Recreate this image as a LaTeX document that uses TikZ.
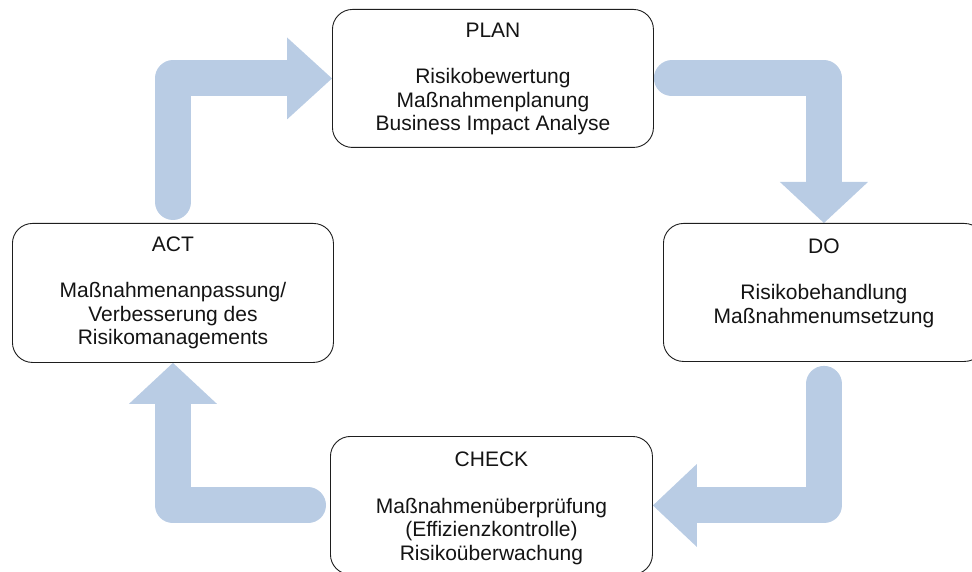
\documentclass[tikz,border=0pt]{standalone}
\usepackage{fontspec}
\setmainfont{Liberation Sans}
\usetikzlibrary{calc,backgrounds}
\definecolor{arrowblue}{RGB}{185,204,228}
\definecolor{boxline}{RGB}{30,30,30}
\tikzset{
  box/.style={draw=boxline, line width=0.9pt, rounded corners=20pt, fill=white,
    minimum width=321pt, minimum height=138pt, anchor=north west, inner sep=0pt},
  txt/.style={anchor=north, inner sep=0pt, align=center, text=black!92,
    font=\fontsize{21}{23.3}\selectfont},
  flow/.style={draw=arrowblue, line width=36pt, line join=round, line cap=round},
  head/.style={fill=arrowblue, draw=none}
}
\begin{document}
\begin{tikzpicture}[x=1pt,y=1pt]
\useasboundingbox (0,0) rectangle (972,-572);
\clip (0,0) rectangle (972,-572);
% boxes
\path (332,-9) node[box] (plan) {};
\path (663,-223) node[box] (do) {};
\path (330,-436) node[box, minimum width=322pt] (check) {};
\path (12,-223) node[box, minimum height=139pt] (act) {};
% texts
\node[txt] (plantxt) at ([yshift=-13.5pt]plan.north) {PLAN\\[23.3pt]Risikobewertung\\Maßnahmenplanung\\Business Impact Analyse};
\node[txt] (dotxt) at ([yshift=-15.5pt]do.north) {DO\\[23.3pt]Risikobehandlung\\Maßnahmenumsetzung};
\node[txt] (checktxt) at ([yshift=-16pt]check.north) {CHECK\\[23.3pt]Maßnahmenüberprüfung\\(Effizienzkontrolle)\\Risikoüberwachung};
\node[txt] (acttxt) at ([yshift=-13.5pt]act.north) {ACT\\[23.3pt]Maßnahmenanpassung/\\Verbesserung des\\Risikomanagements};
% arrows behind the boxes
\begin{scope}[on background layer]
% ACT -> PLAN
\draw[flow] ([yshift=21pt]act.north) -- (act.north |- plan.west) -- ([xshift=-40pt]plan.west);
\fill[head] ([xshift=-45pt,yshift=41pt]plan.west) -- (plan.west) -- ([xshift=-45pt,yshift=-41pt]plan.west) -- cycle;
% PLAN -> DO
\draw[flow] ([xshift=18pt]plan.east) -- (do.north |- plan.east) -- ([yshift=36pt]do.north);
\fill[head] ([xshift=-44pt,yshift=41pt]do.north) -- (do.north) -- ([xshift=44pt,yshift=41pt]do.north) -- cycle;
% DO -> CHECK
\draw[flow] ([yshift=-22pt]do.south) -- (do.south |- check.east) -- ([xshift=39pt]check.east);
\fill[head] ([xshift=44pt,yshift=41.5pt]check.east) -- (check.east) -- ([xshift=44pt,yshift=-41.5pt]check.east) -- cycle;
% CHECK -> ACT
\draw[flow] ([xshift=-22pt]check.west) -- (act.south |- check.west) -- ([yshift=-36pt]act.south);
\fill[head] ([xshift=-44pt,yshift=-41pt]act.south) -- (act.south) -- ([xshift=44pt,yshift=-41pt]act.south) -- cycle;
\end{scope}
\end{tikzpicture}
\end{document}
